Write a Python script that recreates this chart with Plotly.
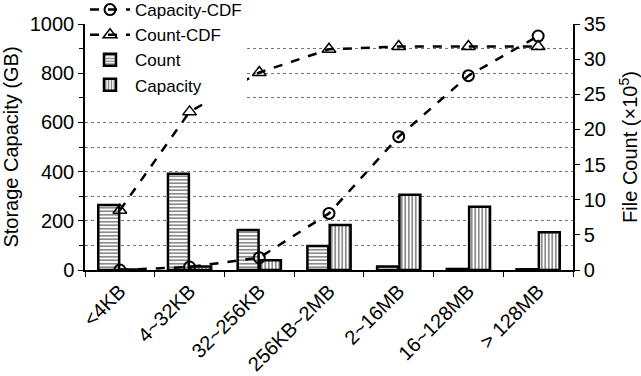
import plotly.graph_objects as go

categories = ["<4KB", "4~32KB", "32~256KB", "256KB~2MB", "2~16MB", "16~128MB", "> 128MB"]
count_vals = [9.25, 13.7, 5.7, 3.4, 0.5, 0.15, 0.1]          # x10^5 files
capacity_vals = [2, 14, 40, 183, 306, 257, 153]            # GB
capacity_cdf = [0, 12, 50, 230, 542, 790, 951]             # GB
count_cdf = [8.5, 22.5, 28.1, 31.4, 31.8, 31.8, 31.8]      # x10^5 files

FONT = "Liberation Sans, Arial, sans-serif"

fig = go.Figure()

fig.add_trace(go.Scatter(
    x=categories, y=capacity_cdf, name="Capacity-CDF", mode="lines+markers",
    line=dict(color="black", width=2.5, dash="dash"),
    marker=dict(symbol="circle-open", size=11, color="black", line=dict(width=2)),
    yaxis="y3"))
fig.add_trace(go.Scatter(
    x=categories, y=count_cdf, name="Count-CDF", mode="lines+markers",
    line=dict(color="black", width=2.5, dash="dash"),
    marker=dict(symbol="triangle-up-open", size=12, color="black", line=dict(width=1.5)),
    yaxis="y4"))
fig.add_trace(go.Bar(
    x=categories, y=count_vals, name="Count", yaxis="y2",
    width=0.3, offset=-0.31,
    marker=dict(color="white", line=dict(color="black", width=2.5),
                pattern=dict(shape="-", fgcolor="black", bgcolor="white", size=3.5, solidity=0.45))))
fig.add_trace(go.Bar(
    x=categories, y=capacity_vals, name="Capacity", yaxis="y",
    width=0.3, offset=0.01,
    marker=dict(color="white", line=dict(color="black", width=2.5),
                pattern=dict(shape="|", fgcolor="black", bgcolor="white", size=3.5, solidity=0.45))))

fig.update_layout(
    width=641, height=376,
    margin=dict(l=85, r=68, t=24, b=106, autoexpand=False),
    paper_bgcolor="white", plot_bgcolor="white",
    font=dict(family=FONT, size=20, color="black"),
    barmode="overlay",
    showlegend=True,
    legend=dict(x=0.0, y=1.13, xanchor="left", yanchor="top",
                bgcolor="white", borderwidth=0, font=dict(size=17, family=FONT),
                itemwidth=40, tracegroupgap=0, traceorder="normal"),
    xaxis=dict(
        type="category", showline=True, linecolor="black", linewidth=1.5,
        ticks="outside", tickson="boundaries", ticklen=5, tickcolor="black",
        tickangle=-45, tickfont=dict(size=20, family=FONT), showgrid=False),
    yaxis=dict(
        range=[0, 1000], dtick=200, showline=True, linecolor="black", linewidth=1.5,
        ticks="outside", ticklen=5, tickcolor="black",
        showgrid=True, gridcolor="#777", griddash="dot", gridwidth=1,
        minor=dict(dtick=100, ticks="outside", ticklen=4, tickcolor="black",
                   showgrid=True, gridcolor="#777", griddash="dot", gridwidth=1),
        title=dict(text="Storage Capacity (GB)", font=dict(size=20, family=FONT), standoff=12),
        tickfont=dict(size=20, family=FONT), zeroline=False),
    yaxis2=dict(
        range=[0, 35], dtick=5, overlaying="y", side="right",
        showline=True, linecolor="black", linewidth=1.5,
        ticks="outside", ticklen=5, tickcolor="black", showgrid=False,
        title=dict(text="File Count (×10<sup>5</sup>)", font=dict(size=20, family=FONT), standoff=18),
        tickfont=dict(size=20, family=FONT), zeroline=False),
    yaxis3=dict(range=[0, 1000], overlaying="y", visible=False, showgrid=False, zeroline=False),
    yaxis4=dict(range=[0, 35], overlaying="y", visible=False, showgrid=False, zeroline=False),
)

fig.write_html("out.html")
